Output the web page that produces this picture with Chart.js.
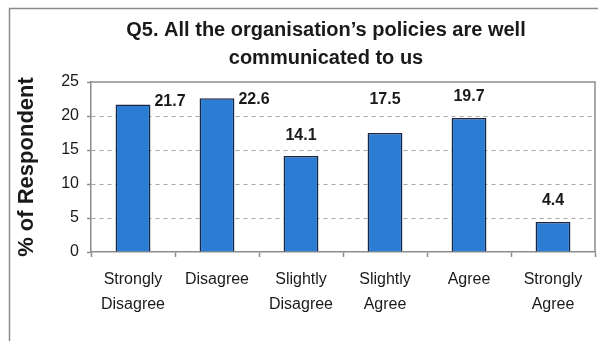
<!DOCTYPE html>
<html>
<head>
<meta charset="utf-8">
<title>Q5. All the organisation’s policies are well communicated to us</title>
<script src="https://cdn.jsdelivr.net/npm/chart.js@4/dist/chart.umd.min.js"></script>
<style>
  html, body { margin: 0; padding: 0; background: #ffffff; }
  #wrap { width: 598px; height: 341px; position: relative; }
</style>
</head>
<body>
<div id="wrap"><canvas id="chart" width="598" height="341"></canvas></div>
<script>
// Survey answers for Q5 and the share of respondents giving each one
const categories = [
  ['Strongly', 'Disagree'],
  'Disagree',
  ['Slightly', 'Disagree'],
  ['Slightly', 'Agree'],
  'Agree',
  ['Strongly', 'Agree']
];
const percentRespondents = [21.7, 22.6, 14.1, 17.5, 19.7, 4.4];
const yTicks = [0, 5, 10, 15, 20, 25];
const titleLines = ['Q5. All the organisation’s policies are well', 'communicated to us'];
const yAxisTitle = '% of Respondent';

const FONT = 'Arial, "Liberation Sans", Helvetica, sans-serif';
const TEXT = '#1a1a1a';
const LINE = '#8c8c8c';

// Outer frame and the two-line heading
const framePlugin = {
  id: 'frame',
  beforeDraw(chart) {
    const ctx = chart.ctx;
    ctx.save();
    ctx.fillStyle = '#ffffff';
    ctx.fillRect(0, 0, chart.width, chart.height);
    ctx.strokeStyle = '#8a8a8a';
    ctx.lineWidth = 1.5;
    ctx.beginPath();
    ctx.moveTo(9.5, chart.height + 5);
    ctx.lineTo(9.5, 8.5);
    ctx.lineTo(chart.width + 5, 8.5);
    ctx.stroke();

    ctx.fillStyle = TEXT;
    ctx.font = 'bold 20px ' + FONT;
    ctx.textAlign = 'center';
    ctx.textBaseline = 'middle';
    titleLines.forEach((line, i) => ctx.fillText(line, 326, 30 + i * 28));
    ctx.restore();
  },
  afterDatasetsDraw(chart) {
    // top and right edges of the plotting area
    const a = chart.chartArea;
    const ctx = chart.ctx;
    ctx.save();
    ctx.strokeStyle = LINE;
    ctx.lineWidth = 1.5;
    ctx.beginPath();
    ctx.moveTo(a.left, a.top);
    ctx.lineTo(a.right, a.top);
    ctx.lineTo(a.right, a.bottom);
    ctx.stroke();
    ctx.restore();
  }
};

// Value labels: above each bar, or beside it when there is no room above
const valueLabelPlugin = {
  id: 'valueLabels',
  afterDatasetsDraw(chart, args, opts) {
    const ctx = chart.ctx;
    const area = chart.chartArea;
    const meta = chart.getDatasetMeta(0);
    const values = chart.data.datasets[0].data;
    ctx.save();
    ctx.fillStyle = TEXT;
    ctx.font = 'bold 16px ' + FONT;
    ctx.textBaseline = 'middle';
    meta.data.forEach((bar, i) => {
      const text = values[i].toFixed(1);
      const lift = (opts.extraLift && opts.extraLift[i]) || 0;
      const aboveY = bar.y - 21 - lift;
      if (aboveY < area.top + 11) {
        ctx.textAlign = 'left';
        const right = bar.x + bar.width / 2;
        ctx.fillText(text, right + 4, Math.max(bar.y - 3, area.top + 18));
      } else {
        ctx.textAlign = 'center';
        ctx.fillText(text, bar.x, aboveY);
      }
    });
    ctx.restore();
  }
};

new Chart(document.getElementById('chart'), {
  type: 'bar',
  data: {
    labels: categories,
    datasets: [{
      data: percentRespondents,
      backgroundColor: '#2a7dd2',
      borderColor: '#1b2440',
      borderWidth: 1.5,
      borderSkipped: 'bottom',
      barPercentage: 0.415,
      categoryPercentage: 1.0
    }]
  },
  options: {
    responsive: false,
    animation: false,
    devicePixelRatio: 1,
    layout: { padding: { left: 10, top: 82, right: 3, bottom: 24 } },
    plugins: {
      legend: { display: false },
      tooltip: { enabled: false },
      title: { display: false },
      valueLabels: { extraLift: [0, 0, 0, 12, 0, 0] }
    },
    scales: {
      x: {
        offset: true,
        border: { display: true, color: LINE, width: 1.5 },
        grid: {
          offset: true,
          drawOnChartArea: false,
          drawTicks: true,
          tickLength: 5,
          tickColor: LINE,
          tickWidth: 1.5
        },
        ticks: {
          color: TEXT,
          padding: 10,
          maxRotation: 0,
          autoSkip: false,
          font: { family: FONT, size: 16, lineHeight: 1.55 }
        },
        afterFit(scale) { scale.height = 65; }
      },
      y: {
        min: 0,
        max: 25,
        border: { display: true, color: LINE, width: 1.5, dash: [4, 4] },
        grid: {
          color: (c) => (c.tick && (c.tick.value === 0 || c.tick.value === 25)) ? 'rgba(0,0,0,0)' : '#a6a6a6',
          lineWidth: 1,
          drawTicks: true,
          tickLength: 4,
          tickColor: LINE,
          tickWidth: 1.5,
          tickBorderDash: []
        },
        afterBuildTicks(scale) { scale.ticks = yTicks.map(v => ({ value: v })); },
        ticks: {
          color: TEXT,
          padding: 8,
          font: { family: FONT, size: 16 }
        },
        title: {
          display: true,
          text: yAxisTitle,
          color: TEXT,
          padding: { top: 4, bottom: 0 },
          font: { family: FONT, size: 22, weight: 'bold', lineHeight: 1.2 }
        },
        afterFit(scale) { scale.width = 81; }
      }
    }
  },
  plugins: [framePlugin, valueLabelPlugin]
});
</script>
</body>
</html>
